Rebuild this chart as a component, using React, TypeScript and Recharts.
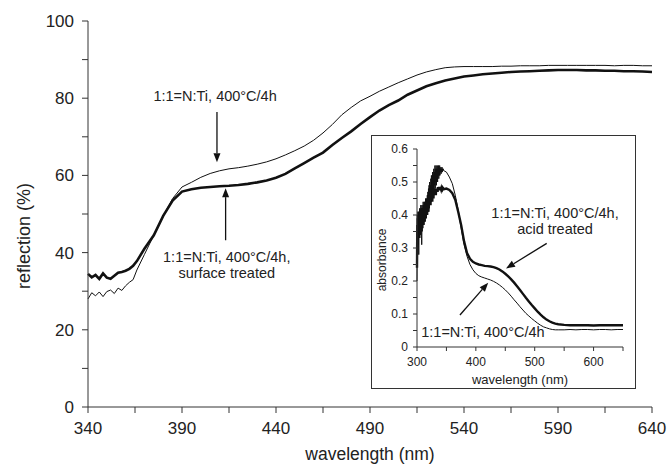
import { LineChart, Line, XAxis, YAxis, ReferenceLine, ReferenceDot } from 'recharts';

// main plot: diffuse reflection
const mainWavelength = [
  340, 342, 344, 346, 348, 350, 352, 354, 356, 358, 360, 362, 364, 366,
  370, 375, 380, 385, 390, 395, 400, 405, 410, 415, 420, 425, 430, 435, 440, 445,
  450, 455, 460, 465, 470, 475, 480, 485, 490, 495, 500, 505, 510, 515, 520, 525,
  530, 535, 540, 545, 550, 555, 560, 565, 570, 575, 580, 585, 590, 595, 600, 605,
  610, 615, 620, 625, 630, 635, 640,
];
const mainUntreated = [
  28.0, 29.6, 28.8, 29.8, 28.6, 29.9, 30.3, 29.4, 30.8, 30.2, 31.4, 32.3, 33.0, 35.5,
  39.5, 44.5, 49.5, 54.0, 57.0, 58.2, 59.5, 60.5, 61.2, 61.7, 62.0, 62.4, 62.9, 63.5, 64.3, 65.3,
  66.4, 67.6, 69.1, 71.0, 73.2, 75.7, 77.6, 79.3, 80.5, 81.8, 82.9, 84.0, 85.0, 86.0, 86.8, 87.4,
  87.9, 88.1, 88.2, 88.2, 88.2, 88.2, 88.3, 88.3, 88.4, 88.4, 88.4, 88.5, 88.5, 88.5, 88.5, 88.5,
  88.5, 88.5, 88.4, 88.5, 88.5, 88.4, 88.4,
];
const mainSurface = [
  34.5, 33.6, 34.2, 33.2, 34.6, 33.5, 33.2, 34.0, 34.8, 35.0, 35.3, 35.8, 36.6, 37.8,
  41.0, 44.5, 49.5, 53.5, 55.8, 56.4, 56.8, 57.0, 57.2, 57.3, 57.5, 57.8, 58.2, 58.7, 59.4, 60.4,
  61.8, 63.2, 64.6, 65.9, 67.9, 69.7, 71.4, 73.3, 75.1, 76.8, 78.2, 79.4, 80.9, 82.0, 83.1, 83.9,
  84.6, 85.1, 85.6, 85.9, 86.2, 86.4, 86.6, 86.8, 86.9, 87.0, 87.1, 87.2, 87.3, 87.3, 87.3, 87.2,
  87.2, 87.1, 87.1, 87.0, 87.0, 86.9, 86.8,
];

// inset: absorbance (noisy below 345 nm)
const insetWavelength = [
  300, 300.5, 301, 301.5, 302, 302.5, 303, 303.5, 304, 304.5, 305, 305.5, 306, 306.5, 307, 307.5,
  308, 308.5, 309, 309.5, 310, 310.5, 311, 311.5, 312, 312.5, 313, 313.5, 314, 314.5, 315, 315.5,
  316, 316.5, 317, 317.5, 318, 318.5, 319, 319.5, 320, 320.5, 321, 321.5, 322, 322.5, 323, 323.5,
  324, 324.5, 325, 325.5, 326, 326.5, 327, 327.5, 328, 328.5, 329, 329.5, 330, 330.5, 331, 331.5,
  332, 332.5, 333, 333.5, 334, 334.5, 335, 335.5, 336, 336.5, 337, 337.5, 338, 338.5, 339, 339.5,
  340, 340.5, 341, 341.5, 342, 342.5, 343, 343.5, 344, 344.5, 345,
  350, 355, 360, 365, 370, 375, 380, 385, 390, 395, 400, 405, 410, 415, 420, 425, 430, 435, 440,
  445, 450, 455, 460, 465, 470, 475, 480, 485, 490, 495, 500, 505, 510, 515, 520, 525, 530, 535, 540,
  550, 560, 570, 580, 590, 600, 610, 620, 630, 640, 650,
];
const insetUntreated = [
  0.20, 0.39, 0.30, 0.41, 0.33, 0.40, 0.28, 0.41, 0.35, 0.42, 0.36, 0.41, 0.34, 0.43, 0.37, 0.42,
  0.31, 0.43, 0.38, 0.42, 0.36, 0.44, 0.38, 0.42, 0.37, 0.44, 0.39, 0.43, 0.38, 0.45, 0.40, 0.44,
  0.39, 0.45, 0.41, 0.46, 0.40, 0.47, 0.42, 0.48, 0.41, 0.49, 0.43, 0.50, 0.44, 0.49, 0.45, 0.51,
  0.44, 0.52, 0.46, 0.51, 0.47, 0.53, 0.46, 0.52, 0.48, 0.54, 0.47, 0.53, 0.49, 0.55, 0.48, 0.54,
  0.50, 0.55, 0.49, 0.54, 0.51, 0.55, 0.50, 0.54, 0.52, 0.55, 0.51, 0.54, 0.52, 0.55, 0.52, 0.54,
  0.53, 0.545, 0.525, 0.54, 0.53, 0.545, 0.53, 0.54, 0.535, 0.54, 0.535,
  0.53, 0.515, 0.495, 0.46, 0.415, 0.36, 0.31, 0.275, 0.25, 0.234, 0.223, 0.216, 0.212, 0.209, 0.206, 0.203, 0.199, 0.194, 0.188,
  0.181, 0.173, 0.164, 0.154, 0.143, 0.133, 0.122, 0.112, 0.102, 0.094, 0.086, 0.079, 0.072, 0.066, 0.061, 0.058, 0.055, 0.053, 0.052, 0.052,
  0.052, 0.053, 0.052, 0.053, 0.053, 0.052, 0.053, 0.053, 0.052, 0.053, 0.053,
];
const insetAcid = [
  0.24, 0.37, 0.31, 0.40, 0.34, 0.39, 0.36, 0.41, 0.33, 0.40, 0.37, 0.41, 0.36, 0.42, 0.38, 0.41,
  0.35, 0.42, 0.38, 0.41, 0.37, 0.42, 0.39, 0.43, 0.38, 0.42, 0.40, 0.43, 0.39, 0.44, 0.40, 0.43,
  0.41, 0.44, 0.40, 0.45, 0.42, 0.44, 0.41, 0.45, 0.42, 0.46, 0.43, 0.45, 0.44, 0.46, 0.43, 0.47,
  0.44, 0.46, 0.45, 0.47, 0.44, 0.48, 0.46, 0.47, 0.45, 0.48, 0.46, 0.48, 0.46, 0.48, 0.47, 0.48,
  0.46, 0.48, 0.47, 0.48, 0.47, 0.48, 0.47, 0.485, 0.475, 0.48, 0.475, 0.485, 0.475, 0.48, 0.475, 0.485,
  0.475, 0.48, 0.477, 0.481, 0.478, 0.48, 0.478, 0.481, 0.479, 0.48, 0.478,
  0.48, 0.476, 0.466, 0.446, 0.41, 0.37, 0.32, 0.285, 0.267, 0.258, 0.253, 0.25, 0.248, 0.246, 0.245, 0.244, 0.242, 0.239, 0.235,
  0.229, 0.222, 0.214, 0.205, 0.195, 0.184, 0.173, 0.161, 0.149, 0.138, 0.127, 0.117, 0.107, 0.098, 0.09, 0.083, 0.078, 0.074, 0.071, 0.069,
  0.067, 0.066, 0.066, 0.066, 0.066, 0.065, 0.066, 0.066, 0.066, 0.066, 0.066,
];

const mainXTicks = [340, 365, 390, 415, 440, 465, 490, 515, 540, 565, 590, 615, 640];
const mainYTicks = [0, 10, 20, 30, 40, 50, 60, 70, 80, 90, 100];
const insetXTicks = [300, 350, 400, 450, 500, 550, 600, 650];
const insetYTicks = [0, 0.05, 0.1, 0.15, 0.2, 0.25, 0.3, 0.35, 0.4, 0.45, 0.5, 0.55, 0.6];

const mainData = mainWavelength.map((w, i) => ({ w, untreated: mainUntreated[i], surface: mainSurface[i] }));
const insetData = insetWavelength.map((w, i) => ({ w, untreated: insetUntreated[i], acid: insetAcid[i] }));

const font = '"Liberation Sans", Arial, sans-serif';
const ink = '#111';
const axisColor = '#333';
const textColor = '#222';

const Arrow = (props: any) => {
  const { x1, y1, x2, y2 } = props;
  const ang = Math.atan2(y2 - y1, x2 - x1);
  const len = 9;
  const half = 3.5;
  const bx = x2 - len * Math.cos(ang);
  const by = y2 - len * Math.sin(ang);
  const px = -Math.sin(ang) * half;
  const py = Math.cos(ang) * half;
  return (
    <g>
      <line x1={x1} y1={y1} x2={bx} y2={by} stroke={ink} strokeWidth={1.3} />
      <polygon points={`${x2},${y2} ${bx + px},${by + py} ${bx - px},${by - py}`} fill={ink} />
    </g>
  );
};

const note = (lines: string[], size: number) => (p: any) => (
  <text x={p.cx} y={p.cy} textAnchor="middle" fontSize={size} fill={textColor} fontFamily={font}>
    {lines.map((t, i) => (
      <tspan key={i} x={p.cx} dy={i === 0 ? 0 : size + 2}>{t}</tspan>
    ))}
  </text>
);

export default function App() {
  // fixed to the viewport so the page never gets scrollbars
  return (
    <div style={{ position: 'fixed', left: 0, top: 0, width: 667, height: 465, background: '#fff', fontFamily: font }}>
      <LineChart width={667} height={465} data={mainData} margin={{ top: 21, right: 15, bottom: 0, left: 0 }}>
        <XAxis
          dataKey="w"
          type="number"
          domain={[340, 640]}
          ticks={mainXTicks}
          interval={0}
          height={58}
          tickSize={6}
          tickMargin={9}
          tickFormatter={(v: number) => ((v - 340) % 50 === 0 ? String(v) : '')}
          tick={{ fontSize: 17, fill: textColor }}
          axisLine={{ stroke: axisColor }}
          tickLine={{ stroke: axisColor }}
          label={{
            content: (p: any) => (
              <text x={p.viewBox.x + p.viewBox.width / 2} y={p.viewBox.y + 53} textAnchor="middle" fontSize={17.5} fill={textColor}>
                wavelength (nm)
              </text>
            ),
          }}
        />
        <YAxis
          type="number"
          domain={[0, 100]}
          ticks={mainYTicks}
          interval={0}
          width={88}
          tickSize={6}
          tickMargin={8}
          tickFormatter={(v: number) => (v % 20 === 0 ? String(v) : '')}
          tick={{ fontSize: 17, fill: textColor }}
          axisLine={{ stroke: axisColor }}
          tickLine={{ stroke: axisColor }}
          label={{
            content: (p: any) => {
              const x = p.viewBox.x + 30;
              const y = p.viewBox.y + p.viewBox.height / 2 + 22;
              return (
                <text x={x} y={y} transform={`rotate(-90 ${x} ${y})`} textAnchor="middle" fontSize={18} fill={textColor}>
                  reflection (%)
                </text>
              );
            },
          }}
        />
        <Line dataKey="untreated" type="linear" stroke={ink} strokeWidth={1} dot={false} isAnimationActive={false} />
        <Line dataKey="surface" type="linear" stroke={ink} strokeWidth={2.6} dot={false} isAnimationActive={false} />
        <ReferenceLine segment={[{ x: 408.6, y: 76.4 }, { x: 408.6, y: 63.4 }]} shape={Arrow} ifOverflow="visible" />
        <ReferenceLine segment={[{ x: 413.2, y: 43.2 }, { x: 413.2, y: 56.7 }]} shape={Arrow} ifOverflow="visible" />
        <ReferenceDot x={407.6} y={79.3} r={1} shape={note(['1:1=N:Ti, 400°C/4h'], 14.5)} ifOverflow="visible" />
        <ReferenceDot x={413.8} y={37.6} r={1} shape={note(['1:1=N:Ti, 400°C/4h,', 'surface treated'], 14.5)} ifOverflow="visible" />
      </LineChart>

      <div
        style={{
          position: 'absolute',
          left: 371,
          top: 135,
          width: 265,
          height: 254,
          boxSizing: 'border-box',
          border: `1px solid ${axisColor}`,
          background: '#fff',
        }}
      >
        <LineChart width={263} height={252} data={insetData} margin={{ top: 13, right: 12, bottom: 0, left: 0 }}>
          <XAxis
            dataKey="w"
            type="number"
            domain={[300, 650]}
            ticks={insetXTicks}
            interval={0}
            height={41}
            tickSize={4}
            tickMargin={6}
            tickFormatter={(v: number) => (v % 100 === 0 ? String(v) : '')}
            tick={{ fontSize: 12, fill: textColor }}
            axisLine={{ stroke: axisColor }}
            tickLine={{ stroke: axisColor }}
            label={{
              content: (p: any) => (
                <text x={p.viewBox.x + p.viewBox.width / 2} y={p.viewBox.y + 37} textAnchor="middle" fontSize={13} fill={textColor}>
                  wavelength (nm)
                </text>
              ),
            }}
          />
          <YAxis
            type="number"
            domain={[0, 0.6]}
            ticks={insetYTicks}
            interval={0}
            width={45}
            tickSize={4}
            tickMargin={5}
            tickFormatter={(v: number) => (Math.round(v * 100) % 10 === 0 ? String(v) : '')}
            tick={{ fontSize: 12, fill: textColor }}
            axisLine={{ stroke: axisColor }}
            tickLine={{ stroke: axisColor }}
            label={{
              content: (p: any) => {
                const x = p.viewBox.x + 14;
                const y = p.viewBox.y + p.viewBox.height / 2 + 12;
                return (
                  <text x={x} y={y} transform={`rotate(-90 ${x} ${y})`} textAnchor="middle" fontSize={12} fill={textColor}>
                    absorbance
                  </text>
                );
              },
            }}
          />
          <Line dataKey="untreated" type="linear" stroke={ink} strokeWidth={1} dot={false} isAnimationActive={false} />
          <Line dataKey="acid" type="linear" stroke={ink} strokeWidth={2.4} dot={false} isAnimationActive={false} />
          <ReferenceLine segment={[{ x: 520.4, y: 0.314 }, { x: 451.2, y: 0.238 }]} shape={Arrow} ifOverflow="visible" />
          <ReferenceLine segment={[{ x: 373, y: 0.097 }, { x: 421, y: 0.195 }]} shape={Arrow} ifOverflow="visible" />
          <ReferenceDot x={534.5} y={0.391} r={1} shape={note(['1:1=N:Ti, 400°C/4h,', 'acid treated'], 14.5)} ifOverflow="visible" />
          <ReferenceDot x={412} y={0.03} r={1} shape={note(['1:1=N:Ti, 400°C/4h'], 14.5)} ifOverflow="visible" />
        </LineChart>
      </div>
    </div>
  );
}
